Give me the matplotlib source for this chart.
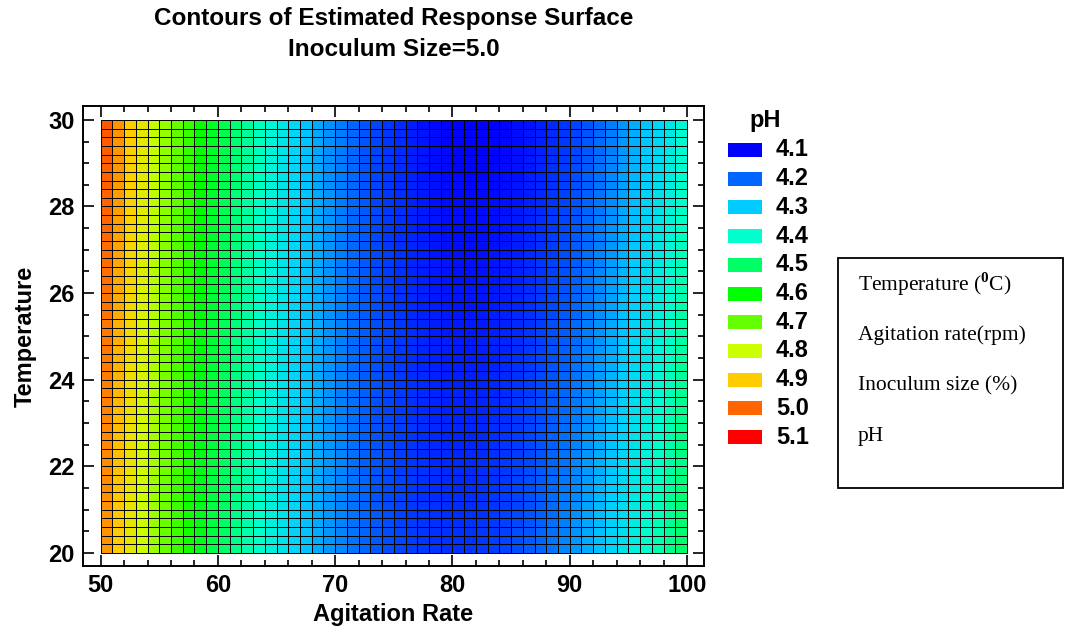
import numpy as np
import matplotlib
matplotlib.use("Agg")
import matplotlib.pyplot as plt
from matplotlib.colors import LinearSegmentedColormap
from matplotlib.patches import Rectangle
from matplotlib.ticker import MultipleLocator

plt.rcParams["font.family"] = ["Liberation Sans", "DejaVu Sans"]
plt.rcParams["mathtext.fontset"] = "custom"
plt.rcParams["mathtext.rm"] = "Liberation Serif"
plt.rcParams["mathtext.bf"] = "Liberation Serif:bold"

# Fitted second-order model for pH (inoculum size held at 5.0 %)
# pH = b0 + bA*A + bT*T + bAA*A^2 + bTT*T^2 + bAT*A*T
b0, bA, bT = 9.56392, -0.13984, 0.022968
bAA, bTT, bAT = 0.00092, 0.0000368, -0.000368

agitation_range = (50, 100)
temperature_range = (20, 30)
n_cells = 50

# Contour levels and their colours
ph_levels = [4.1, 4.2, 4.3, 4.4, 4.5, 4.6, 4.7, 4.8, 4.9, 5.0, 5.1]
level_colors = ["#0000ff", "#0066ff", "#00ccff", "#00ffcc", "#00ff66",
                "#00ff00", "#66ff00", "#ccff00", "#ffcc00", "#ff6600",
                "#ff0000"]

x_ticks = [50, 60, 70, 80, 90, 100]
y_ticks = [20, 22, 24, 26, 28, 30]

box_lines = [r"Temperature ($^{\mathbf{0}}$C)", "Agitation rate(rpm)",
             "Inoculum size (%)", "pH"]

W, H = 1068, 640
fig = plt.figure(figsize=(W / 100, H / 100), dpi=100)


def px_axes(left, top, right, bottom):
    return [left / W, 1 - bottom / H, (right - left) / W, (bottom - top) / H]


ax = fig.add_axes(px_axes(83, 106, 704, 566))

xe = np.linspace(*agitation_range, n_cells + 1)
ye = np.linspace(*temperature_range, n_cells + 1)
xc = 0.5 * (xe[:-1] + xe[1:])
yc = 0.5 * (ye[:-1] + ye[1:])
A, T = np.meshgrid(xc, yc)
ph = b0 + bA * A + bT * T + bAA * A ** 2 + bTT * T ** 2 + bAT * A * T

cmap = LinearSegmentedColormap.from_list(
    "ph", list(zip(np.linspace(0, 1, len(level_colors)), level_colors)))
ax.pcolormesh(xe, ye, ph, cmap=cmap, vmin=ph_levels[0], vmax=ph_levels[-1],
              edgecolors="black", linewidth=0.7, antialiased=True)

ax.set_xlim(48.5, 101.45)
ax.set_ylim(19.7, 30.32)
ax.set_xticks(x_ticks)
ax.set_yticks(y_ticks)
ax.xaxis.set_minor_locator(MultipleLocator(2))
ax.yaxis.set_minor_locator(MultipleLocator(0.5))
ax.tick_params(which="both", direction="in", top=True, right=True,
               width=1.2, labelsize=17, pad=6)
ax.tick_params(which="major", length=8)
ax.tick_params(which="minor", length=4.5)
for lab in ax.get_xticklabels() + ax.get_yticklabels():
    lab.set_fontweight("bold")
for sp in ax.spines.values():
    sp.set_linewidth(1.4)
ax.set_xlabel("Agitation Rate", fontsize=17, fontweight="bold", labelpad=4)
ax.set_ylabel("Temperature", fontsize=17, fontweight="bold", labelpad=8)

fig.text(394 / W, 1 - 19 / H, "Contours of Estimated Response Surface",
         ha="center", va="center", fontsize=17.5, fontweight="bold")
fig.text(394 / W, 1 - 50 / H, "Inoculum Size=5.0",
         ha="center", va="center", fontsize=17.5, fontweight="bold")

# Overlay in pixel coordinates for the level key and the variable box
ov = fig.add_axes([0, 0, 1, 1], facecolor="none")
ov.set_xlim(0, W)
ov.set_ylim(H, 0)
ov.axis("off")

ov.text(765, 121, "pH", ha="center", va="center", fontsize=17,
        fontweight="bold")
for i, (lvl, col) in enumerate(zip(ph_levels, level_colors)):
    yy = 150 + i * 28.7
    ov.add_patch(Rectangle((728, yy - 7), 34, 14, facecolor=col,
                           edgecolor="none"))
    ov.text(776, yy, f"{lvl:.1f}", ha="left", va="center", fontsize=17,
            fontweight="bold")

ov.add_patch(Rectangle((838, 258), 225, 230, facecolor="white",
                       edgecolor="black", linewidth=1.3))
for i, line in enumerate(box_lines):
    ov.text(858, 284 + i * 51, line, ha="left", va="center", fontsize=15.5,
            family="Liberation Serif")

fig.savefig("out.png", dpi=100)
